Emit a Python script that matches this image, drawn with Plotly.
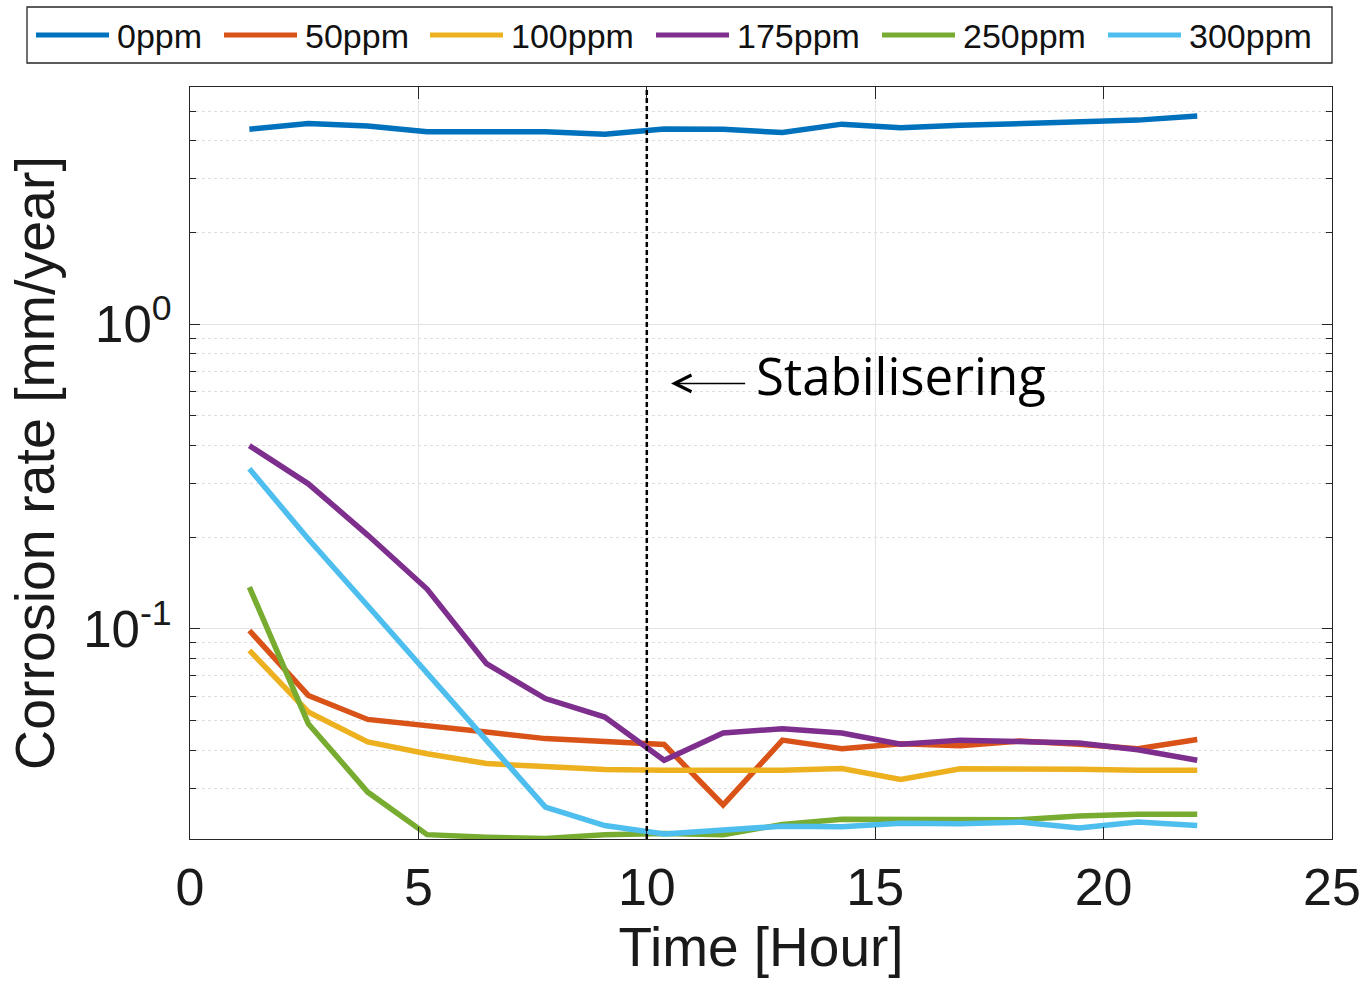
import plotly.graph_objects as go

# Measurement times [hours]
time_h = [1.30, 2.59, 3.89, 5.19, 6.49, 7.78, 9.08, 10.38, 11.67,
          12.97, 14.27, 15.56, 16.86, 18.16, 19.46, 20.75, 22.05]

# Corrosion rate [mm/year] per inhibitor concentration
rate_0ppm = [4.36, 4.55, 4.47, 4.28, 4.28, 4.28, 4.20, 4.37, 4.36,
             4.25, 4.53, 4.41, 4.49, 4.56, 4.64, 4.67, 4.82]
rate_50ppm = [0.0987, 0.0604, 0.0504, 0.0482, 0.0458, 0.0436, 0.0425, 0.0417, 0.0264,
              0.0431, 0.0404, 0.0419, 0.0413, 0.0428, 0.0418, 0.0404, 0.0433]
rate_100ppm = [0.0849, 0.0533, 0.0425, 0.0389, 0.0361, 0.0354, 0.0345, 0.0343, 0.0343,
               0.0343, 0.0348, 0.0320, 0.0347, 0.0348, 0.0346, 0.0343, 0.0343]
rate_175ppm = [0.399, 0.299, 0.203, 0.135, 0.0768, 0.0590, 0.0513, 0.0370, 0.0455,
               0.0470, 0.0455, 0.0418, 0.0431, 0.0428, 0.0422, 0.0401, 0.0370]
rate_250ppm = [0.137, 0.0488, 0.0291, 0.0211, 0.0207, 0.0205, 0.0211, 0.0213, 0.0211,
               0.0228, 0.0237, 0.0237, 0.0236, 0.0236, 0.0243, 0.0246, 0.0246]
rate_300ppm = [0.335, 0.197, 0.119, 0.0712, 0.0430, 0.0260, 0.0226, 0.0212, 0.0218,
               0.0225, 0.0224, 0.0230, 0.0229, 0.0232, 0.0222, 0.0232, 0.0226]

series_names = ["0ppm", "50ppm", "100ppm", "175ppm", "250ppm", "300ppm"]
series_values = [rate_0ppm, rate_50ppm, rate_100ppm, rate_175ppm, rate_250ppm, rate_300ppm]
series_colors = ["#0072BD", "#D95319", "#EDB120", "#7E2F8E", "#77AC30", "#4DBEEE"]

stabilisation_time = 10
annotation_text = "Stabilisering"

x_ticks = [0, 5, 10, 15, 20, 25]
y_major = [0.1, 1]
y_major_text = ["10<sup>-1</sup>", "10<sup>0</sup>"]
y_minor = [0.03, 0.04, 0.05, 0.06, 0.07, 0.08, 0.09,
           0.2, 0.3, 0.4, 0.5, 0.6, 0.7, 0.8, 0.9, 2, 3, 4, 5]

FONT = "Liberation Sans, Arial, Helvetica, sans-serif"
AX_COLOR = "#262626"
TXT_COLOR = "#1a1a1a"

# Figure geometry (pixels)
W, H = 1366, 982
M_L, M_R, M_T, M_B = 190, 34, 87, 143
PLOT_W = W - M_L - M_R
PLOT_H = H - M_T - M_B


def paper_x(px):
    return (px - M_L) / PLOT_W


def paper_y(py):
    return (H - M_B - py) / PLOT_H


fig = go.Figure()
for name, vals, col in zip(series_names, series_values, series_colors):
    fig.add_trace(go.Scatter(
        x=time_h, y=vals, name=name, mode="lines",
        line=dict(color=col, width=5.5), showlegend=False,
    ))

fig.update_layout(
    width=W, height=H,
    margin=dict(l=M_L, r=M_R, t=M_T, b=M_B),
    paper_bgcolor="white", plot_bgcolor="white",
    font=dict(family=FONT, color=TXT_COLOR),
    showlegend=False,
)

fig.update_xaxes(
    range=[0, 25], tickvals=x_ticks, ticks="inside", ticklen=12, tickwidth=1.2,
    tickcolor=AX_COLOR, showline=True, linecolor=AX_COLOR, linewidth=1.3, mirror="ticks",
    showgrid=True, gridcolor="#e3e3e3", gridwidth=1, zeroline=False, automargin=False,
    tickfont=dict(size=52, family=FONT, color=TXT_COLOR), ticklabelstandoff=2,
    title=dict(text="Time [Hour]", font=dict(size=55, family=FONT, color=TXT_COLOR), standoff=0),
)
fig.update_yaxes(
    type="log", range=[-1.690, 0.778],
    tickmode="array", tickvals=y_major, ticktext=y_major_text,
    ticks="inside", ticklen=10, tickwidth=1.2, tickcolor=AX_COLOR,
    showline=True, linecolor=AX_COLOR, linewidth=1.3, mirror="ticks",
    showgrid=True, gridcolor="#e3e3e3", gridwidth=1, zeroline=False, automargin=False,
    tickfont=dict(size=51, family=FONT, color=TXT_COLOR), ticklabelstandoff=7,
    minor=dict(tickmode="array", tickvals=y_minor, ticks="inside", ticklen=6,
               tickcolor=AX_COLOR, showgrid=True, gridcolor="#dedede", griddash="dot", gridwidth=1),
    title=dict(text="Corrosion rate [mm/year]", font=dict(size=55.5, family=FONT, color=TXT_COLOR),
               standoff=10),
)

# Legend panel above the axes
LEG_BOX = (27, 7, 1332, 63)
LEG_KEY_X = [36, 224, 430, 656, 882, 1108]
LEG_KEY_LEN = 73
LEG_TEXT_GAP = 8
LEG_ROW_Y = 35

fig.add_shape(type="rect", xref="paper", yref="paper",
              x0=paper_x(LEG_BOX[0]), x1=paper_x(LEG_BOX[2]),
              y0=paper_y(LEG_BOX[3]), y1=paper_y(LEG_BOX[1]),
              line=dict(color=AX_COLOR, width=1.3), fillcolor="white", layer="above")
for name, col, kx in zip(series_names, series_colors, LEG_KEY_X):
    fig.add_shape(type="line", xref="paper", yref="paper",
                  x0=paper_x(kx), x1=paper_x(kx + LEG_KEY_LEN),
                  y0=paper_y(LEG_ROW_Y), y1=paper_y(LEG_ROW_Y),
                  line=dict(color=col, width=5), layer="above")
    fig.add_annotation(xref="paper", yref="paper",
                       x=paper_x(kx + LEG_KEY_LEN + LEG_TEXT_GAP - 2), y=paper_y(LEG_ROW_Y + 1),
                       text=name, showarrow=False, xanchor="left", yanchor="middle",
                       font=dict(size=34, family=FONT, color="#111111"))

# Stabilisation marker
fig.add_shape(type="line", xref="x", yref="y domain", x0=stabilisation_time, x1=stabilisation_time,
              y0=0, y1=1, line=dict(color="black", width=2.5, dash="5px,3px"))

# Label with a leftward arrow pointing at the marker
fig.add_annotation(x=10.53, y=-0.1948, ax=12.35, ay=-0.1948, axref="x", ayref="y",
                   xref="x", yref="y", text=annotation_text, showarrow=True,
                   xanchor="left", yanchor="middle", height=86, valign="top",
                   arrowhead=5, arrowsize=2.2, arrowwidth=1.5, arrowcolor="black",
                   standoff=0, startstandoff=9,
                   font=dict(family="Open Sans", size=51, color="black"))

fig.write_html("out.html")
